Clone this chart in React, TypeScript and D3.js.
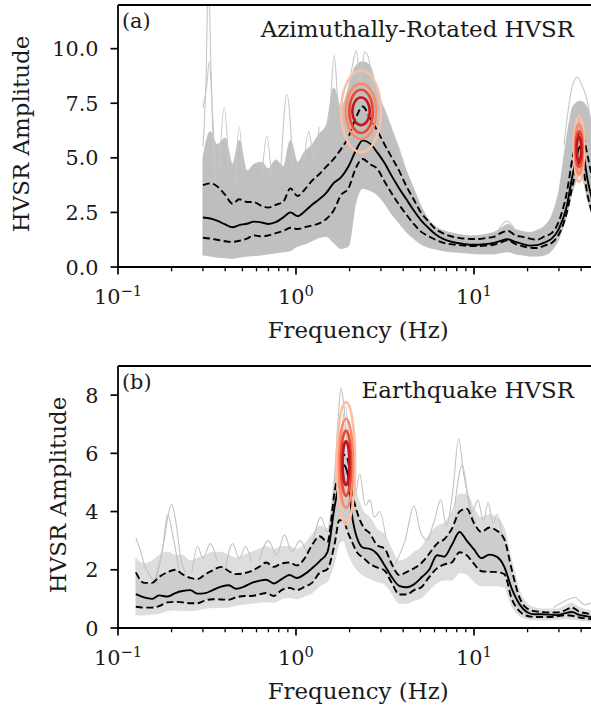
import React from "react";
import * as d3 from "d3";

const FONT = "'DejaVu Serif', 'Liberation Serif', serif";

// ---------------- Panel (a): Azimuthally-Rotated HVSR ----------------
const freqA = [0.30, 0.33, 0.36, 0.40, 0.44, 0.48, 0.53, 0.58, 0.64, 0.70, 0.77, 0.85, 0.93, 1.02, 1.12, 1.23, 1.35, 1.48, 1.63, 1.79, 1.97, 2.16, 2.37, 2.61, 2.86, 3.15, 3.46, 3.80, 4.17, 4.58, 5.03, 5.53, 6.07, 6.67, 7.33, 8.05, 8.84, 9.71, 10.7, 11.7, 12.9, 14.1, 15.5, 17.1, 18.8, 20.6, 22.6, 24.9, 27.3, 30.0, 33.0, 36.2, 39.8, 43.7, 48.0];
const medianA = [2.27, 2.22, 2.12, 1.95, 1.82, 1.92, 1.98, 2.08, 2.04, 1.97, 2.05, 2.28, 2.5, 2.33, 2.55, 2.85, 3.1, 3.4, 3.85, 4.1, 4.6, 5.3, 5.8, 5.65, 5.25, 4.75, 4.15, 3.6, 3.1, 2.6, 2.15, 1.8, 1.5, 1.3, 1.17, 1.1, 1.05, 1.02, 1.02, 1.05, 1.1, 1.2, 1.27, 1.15, 1.05, 0.98, 1.0, 1.12, 1.3, 1.75, 2.7, 4.4, 5.55, 3.9, 2.5];
const p84A = [3.75, 3.83, 3.7, 3.3, 2.9, 3.1, 2.98, 2.97, 2.8, 2.72, 2.85, 3.0, 3.6, 3.25, 3.55, 3.95, 4.25, 4.6, 4.95, 5.4, 5.95, 6.8, 7.35, 6.8, 6.25, 5.6, 5.0, 4.4, 3.7, 3.1, 2.5, 2.1, 1.75, 1.55, 1.42, 1.35, 1.3, 1.28, 1.28, 1.33, 1.38, 1.55, 1.65, 1.45, 1.38, 1.3, 1.25, 1.4, 1.55, 2.1, 3.3, 5.2, 6.2, 5.0, 3.2];
const p16A = [1.34, 1.3, 1.25, 1.18, 1.15, 1.2, 1.3, 1.45, 1.4, 1.45, 1.55, 1.65, 1.8, 1.74, 1.82, 1.9, 2.0, 2.2, 2.6, 3.3, 3.6, 4.5, 4.95, 4.7, 4.5, 3.9, 3.35, 2.85, 2.4, 1.98, 1.62, 1.42, 1.25, 1.12, 1.05, 1.01, 0.98, 0.96, 0.96, 0.98, 1.02, 1.12, 1.22, 1.05, 0.95, 0.88, 0.87, 0.98, 1.1, 1.5, 2.4, 3.9, 4.9, 3.2, 2.0];
const cloudHiA = [5.0, 6.2, 5.6, 5.9, 4.7, 5.8, 4.4, 4.7, 4.8, 4.5, 4.9, 4.6, 5.8, 4.8, 5.3, 5.6, 6.1, 6.5, 8.2, 7.3, 8.2, 9.2, 9.4, 9.2, 8.0, 7.2, 6.3, 5.4, 4.4, 3.6, 2.8, 2.2, 1.85, 1.68, 1.58, 1.5, 1.45, 1.42, 1.44, 1.5, 1.58, 1.75, 1.95, 1.72, 1.62, 1.58, 1.68, 1.88, 2.35, 3.5, 5.8, 7.4, 7.6, 7.2, 5.5];
const cloudLoA = [0.55, 0.5, 0.45, 0.42, 0.4, 0.45, 0.5, 0.52, 0.55, 0.6, 0.65, 0.7, 0.75, 0.95, 1.05, 1.2, 1.35, 1.4, 1.1, 0.85, 0.95, 2.9, 3.6, 3.5, 3.3, 2.9, 2.4, 2.0, 1.6, 1.3, 1.05, 0.9, 0.82, 0.75, 0.7, 0.68, 0.65, 0.62, 0.6, 0.6, 0.6, 0.65, 0.7, 0.6, 0.55, 0.5, 0.5, 0.55, 0.75, 1.3, 2.3, 3.6, 4.2, 3.0, 1.8];
const strandsA: [number, number][][] = [
  [[0.30, 5.5], [0.312, 8.5], [0.322, 13.5], [0.332, 9.5], [0.345, 5.0], [0.36, 3.5]],
  [[0.30, 7.3], [0.315, 8.3], [0.326, 9.4], [0.338, 7.4], [0.352, 4.6]],
  [[0.37, 4.3], [0.395, 7.3], [0.42, 4.4]],
  [[0.455, 3.8], [0.48, 6.4], [0.505, 4.0]],
  [[0.64, 3.8], [0.685, 6.0], [0.73, 4.0]],
  [[0.82, 4.3], [0.89, 7.9], [0.96, 4.6]],
  [[1.1, 4.5], [1.18, 6.2], [1.26, 5.0], [1.35, 6.4]],
  [[1.45, 5.5], [1.56, 7.5], [1.64, 9.7], [1.72, 7.6], [1.8, 7.0]],
  [[1.9, 7.5], [2.05, 9.0], [2.18, 9.9], [2.3, 8.4], [2.42, 9.85], [2.55, 9.6], [2.7, 8.2], [2.9, 6.8]],
  [[13.5, 1.6], [15.3, 2.1], [17.0, 1.7]],
  [[32, 5.6], [35.5, 8.2], [38, 8.7], [40.5, 8.3], [43, 7.7], [47, 5.8]],
];
// peak density contours: centre (freq, amplitude), half-widths in log10(freq) and amplitude, outer -> inner
const contourPeaksA = [
  { f: 2.32, amp: 7.13, dLogF: [0.112, 0.085, 0.066, 0.049], dAmp: [1.87, 1.27, 0.99, 0.63] },
  { f: 38.9, amp: 5.4, dLogF: [0.028, 0.022, 0.018, 0.013], dAmp: [1.51, 1.14, 0.82, 0.55] },
];
const yTicksA = [0, 2.5, 5, 7.5, 10];

// ---------------- Panel (b): Earthquake HVSR ----------------
const freqB = [0.126, 0.14, 0.155, 0.17, 0.19, 0.21, 0.23, 0.255, 0.28, 0.31, 0.34, 0.38, 0.42, 0.46, 0.51, 0.56, 0.62, 0.68, 0.75, 0.83, 0.92, 1.01, 1.12, 1.23, 1.36, 1.5, 1.65, 1.75, 1.85, 1.95, 2.05, 2.2, 2.4, 2.6, 2.85, 3.15, 3.45, 3.8, 4.2, 4.6, 5.1, 5.6, 6.2, 6.8, 7.5, 8.3, 9.1, 10.0, 11.0, 12.2, 13.4, 14.8, 16.3, 18.0, 19.8, 21.8, 24.0, 26.5, 29.2, 32.2, 35.5, 39.1, 43.1, 47.5];
const medianB = [1.16, 1.05, 1.0, 1.12, 1.08, 1.2, 1.27, 1.3, 1.18, 1.2, 1.3, 1.42, 1.47, 1.35, 1.42, 1.54, 1.62, 1.66, 1.53, 1.68, 1.82, 1.72, 1.85, 2.05, 2.3, 2.6, 4.2, 5.0, 5.6, 5.3, 4.0, 3.1, 2.75, 2.72, 2.55, 2.15, 1.75, 1.45, 1.4, 1.5, 1.75, 2.0, 2.5, 2.45, 2.85, 3.3, 3.0, 2.7, 2.4, 2.52, 2.45, 2.1, 1.35, 0.82, 0.55, 0.47, 0.47, 0.46, 0.44, 0.5, 0.55, 0.45, 0.4, 0.36];
const p84B = [1.91, 1.55, 1.55, 1.75, 1.92, 2.0, 1.85, 1.72, 1.68, 1.85, 1.98, 2.1, 1.95, 1.85, 1.88, 1.95, 2.1, 2.25, 2.1, 2.22, 2.25, 2.15, 2.4, 2.85, 3.15, 2.95, 4.7, 5.5, 5.95, 5.8, 4.8, 4.0, 3.45, 3.25, 2.85, 2.72, 2.2, 1.82, 1.93, 2.05, 2.25, 2.55, 2.9, 3.05, 3.4, 4.0, 4.1, 3.6, 3.3, 3.45, 3.35, 3.05, 2.0, 1.05, 0.68, 0.58, 0.55, 0.53, 0.53, 0.6, 0.7, 0.56, 0.5, 0.45];
const p16B = [0.73, 0.7, 0.7, 0.75, 0.88, 0.9, 0.88, 0.85, 0.85, 0.95, 0.99, 0.98, 0.97, 1.05, 1.1, 1.1, 1.15, 1.2, 1.1, 1.3, 1.38, 1.3, 1.42, 1.55, 1.9, 2.02, 2.9, 3.7, 3.7, 3.3, 3.0, 2.6, 2.4, 2.2, 2.08, 1.97, 1.55, 1.15, 1.15, 1.3, 1.42, 1.75, 2.05, 2.18, 2.25, 2.6, 2.5, 2.2, 1.95, 1.93, 1.92, 1.85, 1.0, 0.58, 0.42, 0.38, 0.38, 0.38, 0.4, 0.44, 0.42, 0.36, 0.32, 0.3];
const cloudHiB = [2.4, 2.2, 2.3, 2.5, 2.6, 2.5, 2.5, 2.3, 2.4, 2.5, 2.6, 2.6, 2.5, 2.4, 2.5, 2.6, 2.7, 2.8, 2.7, 2.8, 2.8, 2.7, 2.9, 3.2, 3.5, 3.4, 5.3, 6.6, 7.0, 6.6, 5.5, 4.6, 4.0, 3.8, 3.4, 3.2, 2.7, 2.3, 2.4, 2.6, 2.8, 3.2, 3.5, 3.6, 4.0, 4.6, 4.6, 4.1, 3.8, 3.9, 3.8, 3.4, 2.3, 1.3, 0.85, 0.7, 0.65, 0.65, 0.65, 0.75, 0.85, 0.7, 0.62, 0.55];
const cloudLoB = [0.45, 0.45, 0.48, 0.5, 0.6, 0.62, 0.6, 0.6, 0.62, 0.68, 0.7, 0.7, 0.72, 0.78, 0.82, 0.85, 0.88, 0.9, 0.88, 1.0, 1.05, 1.0, 1.1, 1.2, 1.45, 1.6, 2.3, 2.9, 3.0, 2.6, 2.3, 2.0, 1.8, 1.7, 1.6, 1.5, 1.2, 0.85, 0.85, 0.95, 1.05, 1.3, 1.55, 1.65, 1.65, 1.9, 1.85, 1.6, 1.45, 1.45, 1.45, 1.4, 0.75, 0.42, 0.32, 0.28, 0.28, 0.28, 0.3, 0.32, 0.3, 0.27, 0.24, 0.22];
const strandsB: [number, number][][] = [
  [[0.126, 3.1], [0.133, 2.7], [0.142, 2.1], [0.155, 1.7], [0.17, 1.5]],
  [[0.165, 1.7], [0.18, 2.9], [0.2, 4.25], [0.212, 3.6], [0.225, 2.4], [0.24, 1.9]],
  [[0.16, 1.6], [0.178, 2.7], [0.19, 3.9], [0.203, 3.2], [0.22, 2.0]],
  [[0.26, 1.9], [0.28, 2.8], [0.3, 2.4], [0.33, 2.9], [0.36, 2.3]],
  [[0.4, 2.0], [0.44, 2.9], [0.48, 2.4], [0.52, 2.8], [0.56, 2.3]],
  [[0.62, 2.3], [0.7, 3.0], [0.78, 2.5], [0.86, 3.2], [0.95, 2.6], [1.05, 3.0], [1.15, 2.6]],
  [[1.25, 3.0], [1.38, 3.8], [1.5, 3.3], [1.62, 4.5], [1.73, 7.3], [1.79, 8.25], [1.86, 7.6], [1.95, 6.2], [2.05, 5.0]],
  [[1.6, 4.0], [1.75, 6.0], [1.9, 7.6], [2.0, 6.2], [2.15, 4.6], [2.28, 5.3], [2.45, 4.2], [2.6, 4.4], [2.75, 3.8], [2.95, 4.0], [3.2, 3.1]],
  [[3.6, 2.2], [4.1, 3.0], [4.6, 4.2], [5.0, 3.3], [5.4, 3.0]],
  [[5.5, 3.0], [6.0, 3.7], [6.5, 4.4], [7.0, 3.5], [7.6, 4.7], [8.2, 6.5], [8.7, 5.4], [9.2, 4.6], [9.8, 4.0], [10.5, 4.4], [11.3, 3.7], [12.0, 4.3], [12.8, 3.6], [13.5, 3.9], [14.5, 3.0]],
  [[7.8, 4.2], [8.6, 5.6], [9.4, 4.2], [10.3, 3.6]],
  [[28, 0.7], [33, 0.95], [37, 1.05], [42, 0.8], [48, 0.95]],
];
const contourPeaksB = [
  { f: 1.91, amp: 5.66, dLogF: [0.051, 0.039, 0.028, 0.019], dAmp: [2.1, 1.53, 1.12, 0.75] },
];
const yTicksB = [0, 2, 4, 6, 8];

const contourColors = ["#fcbfa6", "#fb8a6a", "#ee4632", "#c3161c"];
const xMajor = [0.1, 1, 10];
const xMajorExp = ["\u22121", "0", "1"];
const xDomain = [0.1, 50];

type PanelProps = {
  id: string; top: number; bottom: number; yMax: number; yTicks: number[]; yFmt: (v: number) => string;
  ylabelX: number; tag: string; title: string;
  freq: number[]; med: number[]; p16: number[]; p84: number[]; hi: number[]; lo: number[];
  strands: [number, number][][]; peaks: { f: number; amp: number; dLogF: number[]; dAmp: number[] }[];
  outerColor: string; innerColor: string; strandColor: string;
};

const LEFT = 118;
const DECADE = 178;
const TICK_FS = 20.8;
const LABEL_FS = 22.9;

function Panel(p: PanelProps) {
  const x = d3.scaleLog().domain(xDomain).range([LEFT, LEFT + DECADE * Math.log10(xDomain[1] / xDomain[0])]);
  const y = d3.scaleLinear().domain([0, p.yMax]).range([p.bottom, p.top]);
  const [x0, x1] = x.range();
  const band = (lo: number[], hi: number[]) =>
    d3.area<number>()
      .x((_, i) => x(p.freq[i]))
      .y0((_, i) => y(lo[i]))
      .y1((_, i) => y(hi[i]))
      .curve(d3.curveMonotoneX)(p.freq.map((_, i) => i)) || "";
  const series = (vals: number[]) => d3.line<number>().x((_, i) => x(p.freq[i])).y((d) => y(d)).curve(d3.curveMonotoneX)(vals) || "";
  const strand = d3.line<[number, number]>().x((d) => x(d[0])).y((d) => y(d[1])).curve(d3.curveMonotoneX);
  const minor: number[] = [];
  for (const dec of [0.1, 1, 10]) for (let k = 2; k <= 9; k++) if (dec * k <= xDomain[1]) minor.push(dec * k);
  const clipId = `clip-${p.id}`;
  return (
    <g>
      <defs>
        <clipPath id={clipId}>
          <rect x={x0} y={p.top} width={x1 - x0} height={p.bottom - p.top} />
        </clipPath>
      </defs>
      <g clipPath={`url(#${clipId})`}>
        <path d={band(p.lo, p.hi)} fill={p.outerColor} stroke={p.outerColor} strokeWidth={1} />
        <path d={band(p.p16, p.p84)} fill={p.innerColor} stroke="none" />
        {p.strands.map((s, i) => (
          <path key={i} d={strand(s) || ""} fill="none" stroke={p.strandColor} strokeWidth={1.1} />
        ))}
        <path d={series(p.p84)} fill="none" stroke="#000" strokeWidth={1.9} strokeDasharray="7,3.5" />
        <path d={series(p.p16)} fill="none" stroke="#000" strokeWidth={1.9} strokeDasharray="7,3.5" />
        <path d={series(p.med)} fill="none" stroke="#000" strokeWidth={1.9} />
        {p.peaks.map((pk, j) =>
          pk.dLogF.map((dl, k) => {
            const cx = x(pk.f);
            const cy = y(pk.amp);
            const rx = x(pk.f * Math.pow(10, dl)) - cx;
            const ry = y(0) - y(pk.dAmp[k]);
            return <ellipse key={`${j}-${k}`} cx={cx} cy={cy} rx={rx} ry={ry} fill="none" stroke={contourColors[k]} strokeWidth={2.6} />;
          })
        )}
      </g>
      {/* spines */}
      <line x1={x0} x2={x0} y1={p.top} y2={p.bottom} stroke="#000" strokeWidth={1.8} />
      <line x1={x0} x2={x1} y1={p.bottom} y2={p.bottom} stroke="#000" strokeWidth={1.8} />
      <line x1={x0} x2={x1} y1={p.top} y2={p.top} stroke="#000" strokeWidth={1.8} />
      <line x1={x1} x2={x1} y1={p.top} y2={p.bottom} stroke="#000" strokeWidth={1.8} />
      {/* y ticks */}
      {p.yTicks.map((t) => (
        <g key={t}>
          <line x1={x0 - 7.5} x2={x0} y1={y(t)} y2={y(t)} stroke="#000" strokeWidth={1.7} />
          <text x={98.5} y={y(t) + 7.6} textAnchor="end" fontFamily={FONT} fontSize={TICK_FS} fill="#1a1a1a">{p.yFmt(t)}</text>
        </g>
      ))}
      {/* x ticks */}
      {minor.map((m) => (
        <line key={m} x1={x(m)} x2={x(m)} y1={p.bottom} y2={p.bottom + 4.3} stroke="#000" strokeWidth={1.3} />
      ))}
      {xMajor.map((m, i) => (
        <g key={m}>
          <line x1={x(m)} x2={x(m)} y1={p.bottom} y2={p.bottom + 7.5} stroke="#000" strokeWidth={1.7} />
          <text x={x(m)} y={p.bottom + 37} textAnchor="middle" fontFamily={FONT} fontSize={TICK_FS} fill="#1a1a1a">
            10<tspan dy={-8} fontSize={14.6}>{xMajorExp[i]}</tspan>
          </text>
        </g>
      ))}
      <text x={(x0 + x1) / 2} y={p.bottom + 71} textAnchor="middle" fontFamily={FONT} fontSize={LABEL_FS} fill="#1a1a1a">Frequency (Hz)</text>
      <text transform={`translate(${p.ylabelX},${(p.top + p.bottom) / 2 - 2}) rotate(-90)`} textAnchor="middle" fontFamily={FONT} fontSize={LABEL_FS} fill="#1a1a1a">HVSR Amplitude</text>
      <text x={x0 + 4} y={p.top + 22.5} fontFamily={FONT} fontSize={TICK_FS} fill="#1a1a1a">{p.tag}</text>
      <text x={574} y={p.top + 32} textAnchor="end" fontFamily={FONT} fontSize={LABEL_FS} fill="#1a1a1a">{p.title}</text>
    </g>
  );
}

export default function App() {
  return (
    <svg width={591} height={707} viewBox="0 0 591 707" style={{ display: "block", position: "absolute", left: 0, top: 0, background: "#fff" }}>
      <rect x={0} y={0} width={591} height={707} fill="#fff" />
      <Panel
        id="a" top={5} bottom={267} yMax={12} yTicks={yTicksA} yFmt={(v) => v.toFixed(1)} ylabelX={29}
        tag="(a)" title="Azimuthally-Rotated HVSR"
        freq={freqA} med={medianA} p16={p16A} p84={p84A} hi={cloudHiA} lo={cloudLoA}
        strands={strandsA} peaks={contourPeaksA} outerColor="#c0c0c0" innerColor="#bebebe" strandColor="#c6c6c6"
      />
      <Panel
        id="b" top={366} bottom={628} yMax={9} yTicks={yTicksB} yFmt={(v) => String(v)} ylabelX={66}
        tag="(b)" title="Earthquake HVSR"
        freq={freqB} med={medianB} p16={p16B} p84={p84B} hi={cloudHiB} lo={cloudLoB}
        strands={strandsB} peaks={contourPeaksB} outerColor="#dddddd" innerColor="#cdcdcd" strandColor="#c2c2c2"
      />
    </svg>
  );
}
